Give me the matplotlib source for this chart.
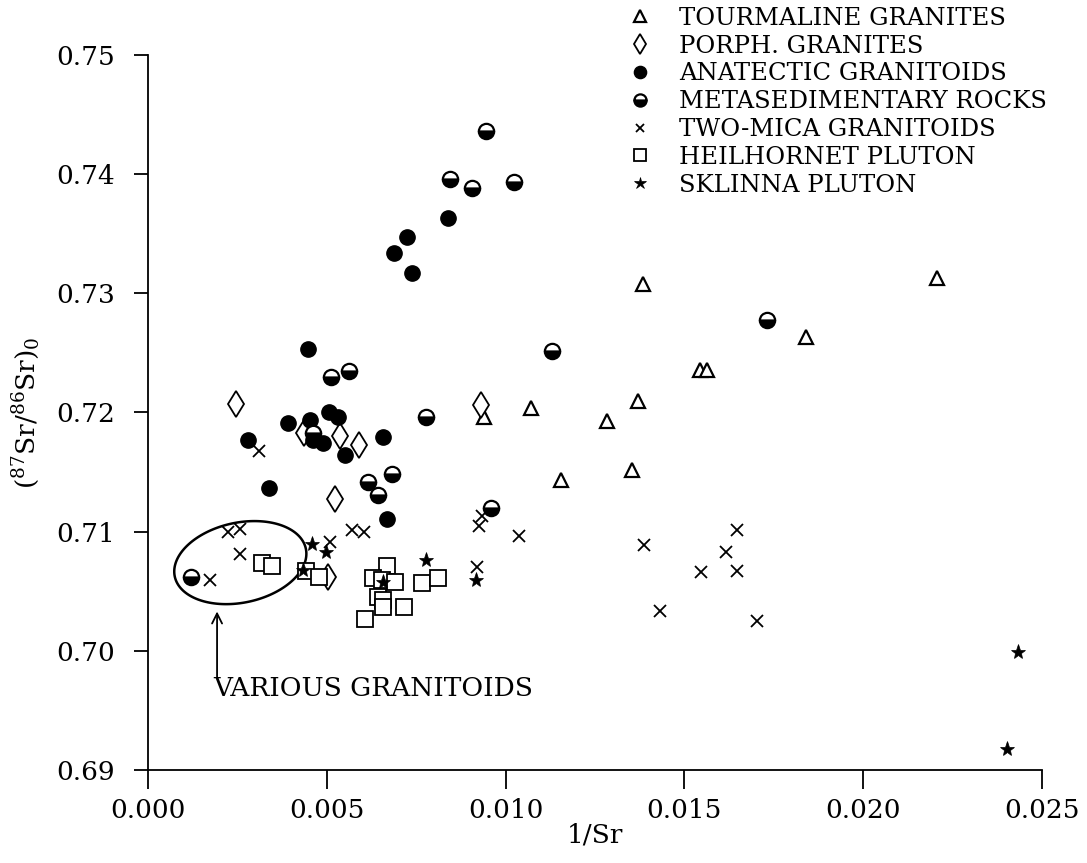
import numpy as np
import matplotlib
matplotlib.use("Agg")
import matplotlib.pyplot as plt
from matplotlib.patches import Polygon

plt.rcParams["font.family"] = ["DejaVu Serif"]
plt.rcParams["mathtext.fontset"] = "dejavuserif"

# ---- data: 1/Sr and initial 87Sr/86Sr ----
tourm_x = [0.01384, 0.02206, 0.01840, 0.01544, 0.01563, 0.01370, 0.01284, 0.01353,
           0.00940, 0.01071, 0.01155]
tourm_y = [0.7308, 0.7313, 0.7263, 0.7236, 0.7236, 0.7210, 0.7193, 0.7152,
           0.7196, 0.7204, 0.7143]

porph_x = [0.00246, 0.00436, 0.00537, 0.00590, 0.00523, 0.00931, 0.00503]
porph_y = [0.7207, 0.7183, 0.7180, 0.7173, 0.7127, 0.7206, 0.7062]

anat_x = [0.00839, 0.00724, 0.00688, 0.00738, 0.00447, 0.00391, 0.00453, 0.00506,
          0.00531, 0.00280, 0.00461, 0.00489, 0.00551, 0.00657, 0.00338, 0.00668]
anat_y = [0.7363, 0.7347, 0.7334, 0.7317, 0.7253, 0.7191, 0.7194, 0.7200,
          0.7196, 0.7177, 0.7177, 0.7174, 0.7164, 0.7179, 0.7137, 0.7111]

meta_x = [0.00945, 0.00845, 0.00906, 0.01023, 0.01130, 0.01731, 0.00512, 0.00562,
          0.00461, 0.00615, 0.00643, 0.00682, 0.00777, 0.00959, 0.00120]
meta_y = [0.7436, 0.7396, 0.7388, 0.7393, 0.7252, 0.7278, 0.7230, 0.7235,
          0.7183, 0.7142, 0.7131, 0.7148, 0.7196, 0.7120, 0.7062]

mica_x = [0.00310, 0.00224, 0.00257, 0.00257, 0.00173, 0.00509, 0.00570, 0.00604,
          0.00934, 0.00926, 0.00920, 0.01037, 0.01387, 0.01647, 0.01616, 0.01546,
          0.01647, 0.01432, 0.01703]
mica_y = [0.7168, 0.7100, 0.7102, 0.7081, 0.7059, 0.7091, 0.7101, 0.7100,
          0.7113, 0.7105, 0.7070, 0.7096, 0.7089, 0.7101, 0.7083, 0.7066,
          0.7067, 0.7033, 0.7025]

heil_x = [0.00319, 0.00347, 0.00442, 0.00478, 0.00668, 0.00629, 0.00654, 0.00691,
          0.00766, 0.00811, 0.00643, 0.00657, 0.00657, 0.00716, 0.00607]
heil_y = [0.7074, 0.7071, 0.7067, 0.7062, 0.7071, 0.7061, 0.7059, 0.7058,
          0.7057, 0.7061, 0.7045, 0.7043, 0.7037, 0.7037, 0.7027]

skl_x = [0.00459, 0.00498, 0.00433, 0.00777, 0.00917, 0.00657, 0.02433, 0.02402]
skl_y = [0.7090, 0.7083, 0.7068, 0.7076, 0.7059, 0.7058, 0.6999, 0.6918]

labels = ["TOURMALINE GRANITES", "PORPH. GRANITES", "ANATECTIC GRANITOIDS",
          "METASEDIMENTARY ROCKS", "TWO-MICA GRANITOIDS", "HEILHORNET PLUTON",
          "SKLINNA PLUTON"]

x_ticks = [0.000, 0.005, 0.010, 0.015, 0.020, 0.025]
y_ticks = [0.69, 0.70, 0.71, 0.72, 0.73, 0.74, 0.75]

# ---- figure ----
fig = plt.figure(figsize=(10.87, 8.63), dpi=100)
ax = fig.add_axes([0.1362, 0.1078, 0.8224, 0.8285])

lw = 1.6
k = "black"
styles = [
    dict(marker="^", ms=10, mfc="white", mec=k, mew=lw),
    dict(marker="d", ms=13, mfc="white", mec=k, mew=1.3),
    dict(marker="o", ms=11, mfc=k, mec=k, mew=1),
    dict(marker="o", ms=11, mfc=k, mfcalt="white", fillstyle="bottom", mec=k, mew=1.6),
    dict(marker="x", ms=8, mec=k, mew=1.3),
    dict(marker="s", ms=11, mfc="white", mec=k, mew=1.3),
    dict(marker="*", ms=11, mfc=k, mec=k, mew=0.5),
]
series = [(tourm_x, tourm_y), (porph_x, porph_y), (anat_x, anat_y), (meta_x, meta_y),
          (mica_x, mica_y), (heil_x, heil_y), (skl_x, skl_y)]

handles = []
for (xs, ys), st, lab in zip(series, styles, labels):
    st = dict(st)
    alt = st.pop("mfcalt", None)
    h, = ax.plot(xs, ys, linestyle="none", label=lab, **st)
    if alt is not None:
        h.set_markerfacecoloralt(alt)
    handles.append(h)

ax.set_xlim(0, 0.025)
ax.set_ylim(0.69, 0.75)
ax.set_xticks(x_ticks)
ax.set_xticklabels([f"{v:.3f}" for v in x_ticks])
ax.set_yticks(y_ticks)
ax.set_yticklabels([f"{v:.2f}" for v in y_ticks])
ax.tick_params(axis="x", direction="out", length=14, width=1.3, labelsize=19, pad=6)
ax.tick_params(axis="y", direction="out", length=10, width=1.3, labelsize=19, pad=14)
for s in ("top", "right"):
    ax.spines[s].set_visible(False)
for s in ("left", "bottom"):
    ax.spines[s].set_linewidth(1.3)

ax.set_xlabel("1/Sr", fontsize=19, labelpad=0)
ax.set_ylabel(r"$(^{87}\mathrm{Sr}/^{86}\mathrm{Sr})_0$", fontsize=19, labelpad=10)

# closed loop around the "various granitoids" group (drawn in pixel-like units)
px_x = 0.025 / (0.8224 * 1087)
px_y = 0.06 / (0.8285 * 863)
cx, cy = 0.00258, 0.7074
a, b, th = 67, 40, np.deg2rad(12)
t = np.linspace(0, 2 * np.pi, 200)
ex = a * np.cos(t) * np.cos(th) - b * np.sin(t) * np.sin(th)
ey = a * np.cos(t) * np.sin(th) + b * np.sin(t) * np.cos(th)
loop = Polygon(np.column_stack([cx + ex * px_x, cy + ey * px_y]), closed=True,
               fill=False, ec=k, lw=1.8)
ax.add_patch(loop)

ax.annotate("", xy=(0.00193, 0.7033), xytext=(0.00193, 0.6978),
            arrowprops=dict(arrowstyle="->", color=k, lw=1.3, mutation_scale=18,
                            shrinkA=0, shrinkB=0))
ax.text(0.00182, 0.6968, "VARIOUS GRANITOIDS", fontsize=19, ha="left", va="center")

fig.legend(handles=handles, loc="upper left", bbox_to_anchor=(0.560, 1.012),
           frameon=False, fontsize=17.5, handletextpad=1.0, labelspacing=0.2,
           handlelength=1.2, markerscale=0.8, borderpad=0.2)

fig.savefig("out.png", dpi=100, facecolor="white")
